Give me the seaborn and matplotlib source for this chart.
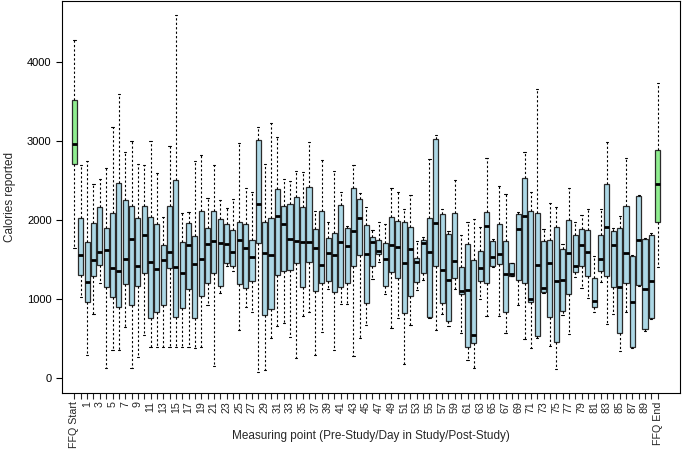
import numpy as np
import pandas as pd
import matplotlib
matplotlib.use("Agg")
import matplotlib.pyplot as plt
import seaborn as sns

# measuring points: FFQ at start, study days 0-90, FFQ at end
points = ["FFQ Start"] + [str(d) for d in range(0, 91)] + ["FFQ End"]

# five-number summaries (kcal)
whisker_low = [1650, 1029, 291, 806, 1207, 122, 354, 354, 650, 122,
               270, 544, 397, 397, 397, 397, 397, 397, 397, 384,
               397, 924, 150, 1080, 1420, 1358, 608, 895, 839, 80,
               101, 502, 662, 700, 515, 249, 785, 831, 291, 578,
               1127, 354, 937, 937, 278, 510, 671, 1249, 1473, 1063,
               629, 755, 177, 671, 1114, 1241, 760, 608, 810, 662,
               1127, 565, 228, 131, 995, 785, 1400, 785, 565, 1290,
               924, 494, 376, 510, 1070, 405, 114, 800, 553, 1274,
               1143, 1008, 831, 1220, 684, 806, 342, 839, 380, 1160,
               600, 740, 1409]
q1 = [2709, 1304, 958, 1295, 1430, 1157, 1030, 903, 1186, 924,
      1169, 1333, 755, 839, 924, 1388, 768, 882, 1123, 755,
      1038, 1199, 1325, 1165, 1451, 1422, 1186, 1144, 1228, 1705,
      797, 873, 1304, 1358, 1367, 1460, 1148, 1464, 1105, 1199,
      1228, 1093, 1157, 1207, 1418, 1557, 945, 1422, 1565, 1165,
      1338, 1262, 819, 1038, 1211, 1325, 776, 1422, 953, 722,
      1270, 1059, 388, 439, 1232, 1199, 1422, 1439, 831, 1295,
      1241, 1199, 966, 536, 1084, 768, 451, 852, 1063, 1346,
      1418, 1295, 903, 1354, 1291, 1157, 565, 1207, 397, 1177,
      616, 755, 1979]
median = [2970, 1557, 1211, 1494, 1590, 1620, 1388, 1358, 1502, 1755,
          1418, 1810, 1473, 1376, 1494, 1599, 1409, 1334, 1690, 1443,
          1502, 1696, 1738, 1705, 1700, 1599, 1747, 1650, 1527, 2200,
          1578, 1557, 2050, 1950, 1755, 1738, 1717, 1717, 1641, 1430,
          1578, 1557, 1717, 1671, 1865, 2021, 1565, 1717, 1612, 1502,
          1684, 1663, 1451, 1629, 1473, 1705, 1591, 1958, 1367, 1241,
          1481, 1101, 1114, 544, 1397, 1924, 1536, 1565, 1312, 1320,
          1881, 2055, 995, 1430, 1143, 1460, 1228, 1241, 1586, 1422,
          1690, 1599, 975, 1502, 1915, 1684, 1148, 1586, 966, 1747,
          1122, 1233, 2451]
q3 = [3527, 2021, 1726, 1958, 2168, 1895, 2084, 2472, 2253, 2177,
      2021, 2177, 2042, 1945, 1690, 2181, 2506, 1716, 1958, 1797,
      2114, 1894, 2118, 2008, 1950, 1873, 1979, 1945, 1747, 3020,
      1970, 2021, 2392, 2177, 2203, 2287, 2168, 2414, 1881, 2118,
      1768, 1831, 2190, 1894, 2401, 2262, 1937, 1781, 1743, 1705,
      2042, 1987, 1979, 1915, 1523, 1750, 2029, 3033, 2071, 1820,
      2084, 1401, 1696, 1494, 1608, 2097, 1734, 1945, 1734, 1451,
      2076, 2527, 2114, 2093, 1734, 1747, 1915, 1629, 2000, 1816,
      1881, 1873, 1262, 1816, 2451, 1861, 1894, 2181, 1540, 2304,
      1755, 1816, 2886]
whisker_high = [4287, 2696, 2747, 2451, 2519, 2666, 3177, 3603, 2865, 3004,
                2714, 2701, 3004, 2599, 2033, 2937, 4595, 2084, 2097, 2743,
                2823, 2282, 2701, 2253, 2150, 2266, 2983, 2401, 2350, 3181,
                2711, 3224, 3055, 2519, 2498, 2616, 2603, 2992, 2118, 2760,
                1970, 2624, 2359, 1930, 2701, 2346, 2168, 1873, 1979, 1945,
                2401, 2350, 2139, 2316, 1730, 1780, 2772, 3076, 2139, 1860,
                2506, 1816, 1979, 2008, 1915, 2789, 1760, 2430, 2325, 1460,
                2100, 2857, 2350, 3664, 1881, 2219, 2168, 1700, 2409, 1979,
                2063, 2134, 1544, 2139, 2992, 1900, 2051, 2789, 1560, 2320,
                1770, 1830, 3738]

# labels R kept after dropping the overlapping ones
shown = ["FFQ Start"] + [str(d) for d in range(1, 90, 2)] + ["FFQ End"]

# one row per summary value, so the box statistics come out exactly
rows = []
for i, p in enumerate(points):
    for v in (whisker_low[i], q1[i], median[i], q3[i], whisker_high[i]):
        rows.append({"point": p, "calories": v})
df = pd.DataFrame(rows)

colors = ["#90ee90" if p.startswith("FFQ") else "#add8e6" for p in points]

sns.set_style("ticks")
plt.rcParams["font.family"] = ["Liberation Sans", "DejaVu Sans"]

fig = plt.figure(figsize=(6.85, 4.49), dpi=100)
ax = fig.add_axes([0.0905, 0.125, 0.902, 0.872])

sns.boxplot(data=df, x="point", y="calories", hue="point", order=points,
            hue_order=points, palette=colors, saturation=1, legend=False,
            whis=np.inf, width=0.8, linewidth=0.9, linecolor="#2b2b2b",
            medianprops={"color": "black", "linewidth": 2.0},
            whiskerprops={"color": "black", "linestyle": (0, (2, 2)), "linewidth": 0.8},
            capprops={"color": "black", "linewidth": 0.8},
            capwidths=0.35, ax=ax)

ax.set_xlim(-1.97, 95.5)
ax.set_ylim(-190, 4772)
ax.set_yticks([0, 1000, 2000, 3000, 4000])
ax.tick_params(axis="y", labelsize=8, length=4, width=0.8, colors="black")
ax.set_xticks(range(len(points)))
ax.set_xticklabels([p if p in shown else "" for p in points], rotation=90)
ax.tick_params(axis="x", labelsize=7.7, length=4, width=0.8, pad=2)
for s in ax.spines.values():
    s.set_visible(True)
    s.set_linewidth(0.8)
    s.set_color("black")

ax.set_xlabel("Measuring point (Pre-Study/Day in Study/Post-Study)", fontsize=8.5)
ax.set_ylabel("Calories reported", fontsize=8.5)
ax.xaxis.set_label_coords(0.5, -0.095)
ax.yaxis.set_label_coords(-0.075, 0.5)

fig.savefig("out.png", dpi=100)
